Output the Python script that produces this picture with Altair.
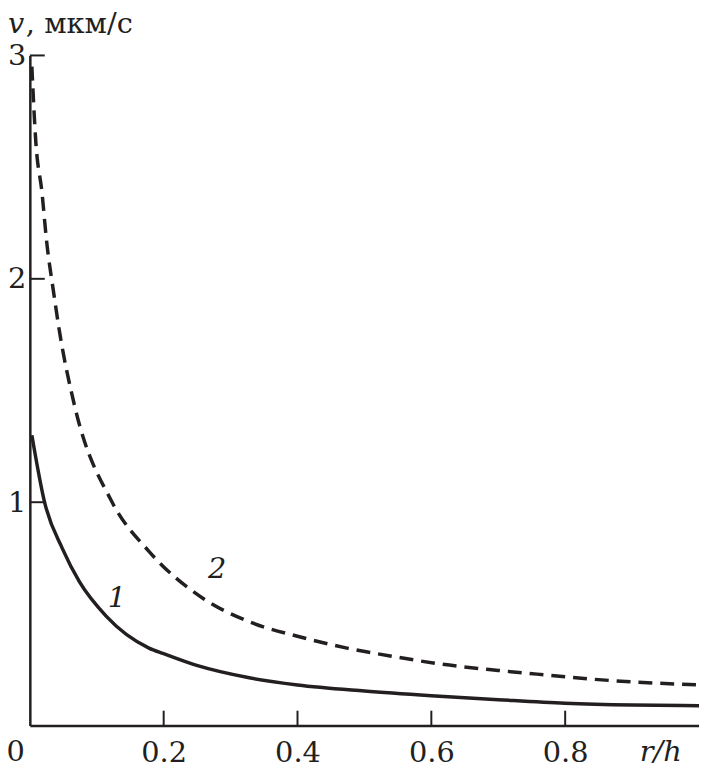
import altair as alt
import pandas as pd

# Curve 1 (solid)
r1 = [0.003, 0.022, 0.049, 0.074, 0.114, 0.178, 0.2, 0.252, 0.326, 0.4, 0.5, 0.6, 0.7, 0.8, 0.9, 1.0]
v1 = [1.30, 1.0, 0.79, 0.644, 0.49, 0.347, 0.322, 0.267, 0.215, 0.182, 0.155, 0.134, 0.116, 0.10, 0.092, 0.089]
# Curve 2 (dashed)
r2 = [0.003, 0.009, 0.018, 0.025, 0.036, 0.044, 0.067, 0.123, 0.178, 0.259, 0.326, 0.4, 0.474, 0.548, 0.615, 0.7, 0.77, 0.844, 1.0]
v2 = [2.95, 2.61, 2.39, 2.17, 1.93, 1.77, 1.43, 1.0, 0.78, 0.569, 0.467, 0.40, 0.347, 0.307, 0.275, 0.247, 0.227, 0.207, 0.182]

x_ticks = [0.2, 0.4, 0.6, 0.8]
y_ticks = [1, 2, 3]

W, H = 674, 675
INK = "#231f20"
FONT = "DejaVu Serif"
FS = 29

d1 = pd.DataFrame({"r": r1, "v": v1})
d2 = pd.DataFrame({"r": r2, "v": v2})

xs = alt.Scale(domain=[0, 1], nice=False, zero=False)
ys = alt.Scale(domain=[0, 3], nice=False, zero=False)

xax = alt.Axis(values=x_ticks, ticks=False, grid=False, title=None, domainColor=INK, domainWidth=2.5,
               labelFont=FONT, labelFontSize=FS, labelColor=INK, labelPadding=13, format=".1f")
yax = alt.Axis(values=y_ticks, ticks=False, grid=False, title=None, domainColor=INK, domainWidth=2.5,
               labelFont=FONT, labelFontSize=FS, labelColor=INK, labelPadding=4, format="d")

line1 = alt.Chart(d1).mark_line(color=INK, strokeWidth=3.5, interpolate="monotone").encode(
    x=alt.X("r:Q", scale=xs, axis=xax), y=alt.Y("v:Q", scale=ys, axis=yax))
line2 = alt.Chart(d2).mark_line(color=INK, strokeWidth=3.5, strokeDash=[14, 8], interpolate="monotone").encode(
    x=alt.X("r:Q", scale=xs, axis=xax), y=alt.Y("v:Q", scale=ys, axis=yax))

xt = alt.Chart(pd.DataFrame({"t": x_ticks})).mark_rule(color=INK, strokeWidth=2).encode(
    x=alt.X("t:Q", scale=xs, axis=xax), y=alt.value(H), y2=alt.value(H - 15))
yt = alt.Chart(pd.DataFrame({"t": y_ticks})).mark_rule(color=INK, strokeWidth=2).encode(
    y=alt.Y("t:Q", scale=ys, axis=yax), x=alt.value(0), x2=alt.value(15))

zero = alt.Chart(pd.DataFrame({"r": [0], "v": [0], "s": ["0"]})).mark_text(
    font=FONT, fontSize=FS, color=INK, align="right", baseline="top", dx=-5, dy=13).encode(
    x=alt.X("r:Q", scale=xs, axis=xax), y=alt.Y("v:Q", scale=ys, axis=yax), text="s:N")

rh = alt.Chart(pd.DataFrame({"r": [0.943], "v": [0], "s": ["r/h"]})).mark_text(
    font=FONT, fontSize=FS, fontStyle="italic", color=INK, align="center", baseline="top", dy=13).encode(
    x=alt.X("r:Q", scale=xs, axis=xax), y=alt.Y("v:Q", scale=ys, axis=yax), text="s:N")

labels = alt.Chart(pd.DataFrame({"r": [0.130, 0.28], "v": [0.569, 0.70], "s": ["1", "2"]})).mark_text(
    font=FONT, fontSize=FS, fontStyle="italic", color=INK, align="center", baseline="middle").encode(
    x=alt.X("r:Q", scale=xs, axis=xax), y=alt.Y("v:Q", scale=ys, axis=yax), text="s:N")

title_v = alt.Chart(pd.DataFrame({"s": ["v"]})).mark_text(
    font=FONT, fontSize=FS, fontStyle="italic", color=INK, align="left", baseline="alphabetic").encode(
    x=alt.value(-22), y=alt.value(-23), text="s:N")
title_u = alt.Chart(pd.DataFrame({"s": [", мкм/с"]})).mark_text(
    font=FONT, fontSize=FS, color=INK, align="left", baseline="alphabetic").encode(
    x=alt.value(-4), y=alt.value(-23), text="s:N")

chart = alt.layer(line1, line2, xt, yt, zero, rh, labels, title_v, title_u).properties(
    width=W, height=H,
    autosize=alt.AutoSizeParams(type="none"),
    padding={"left": 22, "top": 45, "right": 0, "bottom": 50},
).configure_view(stroke=None)

chart.save("out.html", embed_options={"renderer": "svg", "actions": False})
